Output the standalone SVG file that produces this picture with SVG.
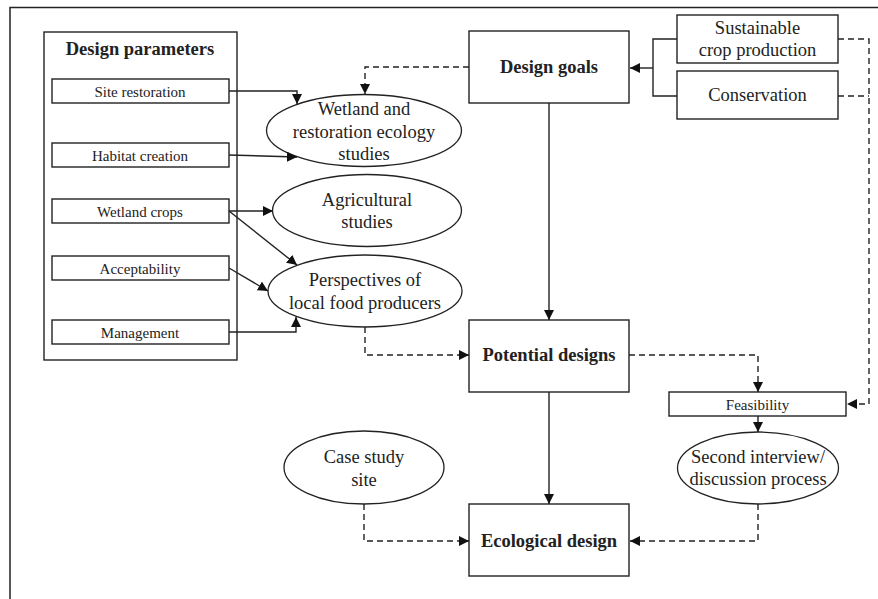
<svg xmlns="http://www.w3.org/2000/svg" width="878" height="599" viewBox="0 0 878 599">
<defs>
<style>
.box{fill:#fff;stroke:#222;stroke-width:1.4}
.ell{fill:#fff;stroke:#222;stroke-width:1.3}
.t{font-family:"Liberation Serif","Times New Roman",serif;fill:#222;text-anchor:middle}
.s14{font-size:15px}
.s18{font-size:18.5px}
.b{font-weight:bold;font-size:18.5px}
.c{fill:none;stroke:#222;stroke-width:1.4}
.d{stroke-dasharray:6,4}
</style>
<marker id="ah" viewBox="0 0 10 10" refX="10" refY="5" markerWidth="10" markerHeight="10" markerUnits="userSpaceOnUse" orient="auto">
<path d="M0,0 L10,5 L0,10 z" fill="#111"/>
</marker>
</defs>
<rect width="878" height="599" fill="#fff"/>
<g id="frame">
<path d="M10,599 L10,7.5 L878,7.5" fill="none" stroke="#222" stroke-width="1.5"/>
</g>
<g id="design-parameters">
<rect class="box" x="44" y="32" width="193" height="328"/>
<text class="t b" x="140" y="55">Design parameters</text>
</g>
<g id="site-restoration"><rect class="box" x="52" y="79" width="177" height="24"/><text class="t s14" x="140" y="96.5">Site restoration</text></g>
<g id="habitat-creation"><rect class="box" x="52" y="143" width="177" height="24"/><text class="t s14" x="140" y="160.5">Habitat creation</text></g>
<g id="wetland-crops"><rect class="box" x="52" y="199" width="177" height="24"/><text class="t s14" x="140" y="216.5">Wetland crops</text></g>
<g id="acceptability"><rect class="box" x="52" y="256" width="177" height="24"/><text class="t s14" x="140" y="273.5">Acceptability</text></g>
<g id="management"><rect class="box" x="52" y="320" width="177" height="24"/><text class="t s14" x="140" y="337.5">Management</text></g>
<g id="wetland-studies"><ellipse class="ell" cx="364" cy="130.5" rx="97.5" ry="36"/>
<text class="t s18" x="364" y="115">Wetland and</text><text class="t s18" x="364" y="138">restoration ecology</text><text class="t s18" x="364" y="160">studies</text></g>
<g id="agricultural-studies"><ellipse class="ell" cx="367" cy="210.5" rx="94.5" ry="36"/>
<text class="t s18" x="367" y="206">Agricultural</text><text class="t s18" x="367" y="228">studies</text></g>
<g id="perspectives"><ellipse class="ell" cx="365" cy="291" rx="97" ry="36"/>
<text class="t s18" x="365" y="286">Perspectives of</text><text class="t s18" x="365" y="309">local food producers</text></g>
<g id="design-goals"><rect class="box" x="469" y="31" width="160" height="72"/><text class="t b" x="549" y="73">Design goals</text></g>
<g id="sustainable"><rect class="box" x="677" y="15" width="161" height="48"/>
<text class="t s18" x="757.5" y="34">Sustainable</text><text class="t s18" x="757.5" y="56">crop production</text></g>
<g id="conservation"><rect class="box" x="677" y="71" width="161" height="48"/><text class="t s18" x="757.5" y="101">Conservation</text></g>
<g id="potential-designs"><rect class="box" x="469" y="320" width="160" height="72"/><text class="t b" x="549" y="361">Potential designs</text></g>
<g id="feasibility"><rect class="box" x="669" y="392" width="177" height="24"/><text class="t s14" x="757.5" y="409.5">Feasibility</text></g>
<g id="second-interview"><ellipse class="ell" cx="758" cy="468" rx="80.5" ry="36"/>
<text class="t s18" x="758" y="463">Second interview/</text><text class="t s18" x="758" y="485">discussion process</text></g>
<g id="case-study"><ellipse class="ell" cx="364" cy="467.5" rx="80" ry="36.5"/>
<text class="t s18" x="364" y="463">Case study</text><text class="t s18" x="364" y="486">site</text></g>
<g id="ecological-design"><rect class="box" x="469" y="504" width="160" height="72"/><text class="t b" x="549" y="547">Ecological design</text></g>
<g id="connectors">
<path class="c" d="M229,91 H297 V104" marker-end="url(#ah)"/>
<path class="c" d="M229,155 L297,157" marker-end="url(#ah)"/>
<path class="c" d="M229,211 L273,211" marker-end="url(#ah)"/>
<path class="c" d="M229,211 L297,265" marker-end="url(#ah)"/>
<path class="c" d="M229,268 L268,291" marker-end="url(#ah)"/>
<path class="c" d="M229,332 H296 V317" marker-end="url(#ah)"/>
<path class="c d" d="M469,67 H365 V94" marker-end="url(#ah)"/>
<path class="c" d="M677,39 H653 V96 H677"/>
<path class="c" d="M653,68 H630" marker-end="url(#ah)"/>
<path class="c d" d="M838,39 H869 V404 H847" marker-end="url(#ah)"/>
<path class="c d" d="M838,96 H869"/>
<path class="c" d="M549,103 V320" marker-end="url(#ah)"/>
<path class="c d" d="M365,327 V355 H469" marker-end="url(#ah)"/>
<path class="c d" d="M629,355 H758 V392" marker-end="url(#ah)"/>
<path class="c" d="M758,416 V432" marker-end="url(#ah)"/>
<path class="c" d="M549,392 V504" marker-end="url(#ah)"/>
<path class="c d" d="M364,504 V541 H469" marker-end="url(#ah)"/>
<path class="c d" d="M758,504 V541 H630" marker-end="url(#ah)"/>
</g>
</svg>
